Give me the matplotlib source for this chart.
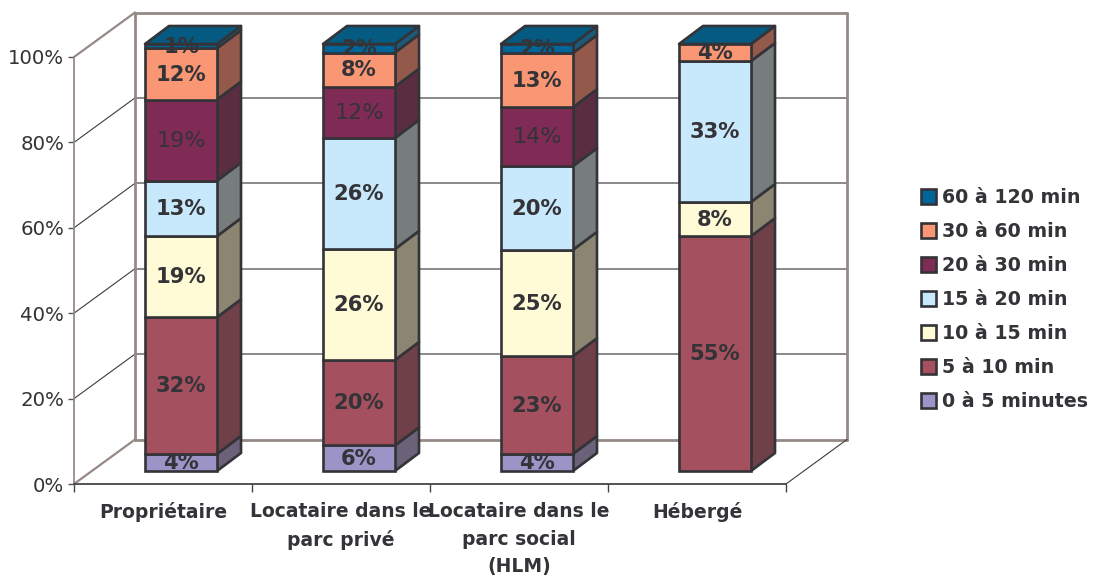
import matplotlib
matplotlib.use("Agg")
import matplotlib.pyplot as plt
from matplotlib.patches import Polygon, Patch
from matplotlib.lines import Line2D
from matplotlib.transforms import IdentityTransform, Affine2D
import numpy as np

categories = ["Propriétaire", "Locataire dans le\nparc privé", "Locataire dans le\nparc social\n(HLM)", "Hébergé"]
series_names = ["0 à 5 minutes", "5 à 10 min", "10 à 15 min", "15 à 20 min", "20 à 30 min", "30 à 60 min", "60 à 120 min"]
v_0_5 = [4, 6, 4.0, 0]
v_5_10 = [32, 20, 22.9, 55]
v_10_15 = [19, 26, 24.9, 8]
v_15_20 = [13, 26, 19.6, 33]
v_20_30 = [19, 12, 13.8, 0]
v_30_60 = [12, 8, 12.7, 4]
v_60_120 = [1, 2, 2.1, 0]
series = [v_0_5, v_5_10, v_10_15, v_15_20, v_20_30, v_30_60, v_60_120]
y_ticks = [0, 20, 40, 60, 80, 100]

front = ["#9C94C7", "#A5505F", "#FFFBD6", "#C8E9FB", "#802B55", "#F99673", "#006699"]
side = ["#6B6178", "#704049", "#8C8571", "#777C7C", "#5A2E40", "#935A4B", "#1B5A78"]
top_col = "#045A80"
edge = "#333338"
wall = "#968A86"
grid = "#808080"
txt = "#333338"
FONT = "DejaVu Sans"
plt.rcParams["font.family"] = FONT

W, H = 1094, 578
fig = plt.figure(figsize=(W / 100, H / 100), dpi=100)
ax = fig.add_axes([74 / W, (H - 484) / H, 712 / W, 427 / H])
ax.set_xlim(0, 4)
ax.set_ylim(0, 100)
ax.patch.set_visible(False)

WDX, WDY = 61, 44.5      # wall depth, pixels
GDX, GDY = 18, 13        # gap between axis plane and bar fronts
BDX, BDY = 24, 18        # bar depth
BW = 72 / 178
ELW = 1.9


def disp(x, y, dx=0, dy=0):
    p = ax.transData.transform((x, y))
    return (p[0] + dx, p[1] + dy)


def line(p, q, color, lw, z=1):
    ax.add_line(Line2D([p[0], q[0]], [p[1], q[1]], color=color, lw=lw, transform=IdentityTransform(),
                       clip_on=False, zorder=z, solid_capstyle="round"))


# walls and gridlines
for v in y_ticks[1:-1]:
    line(disp(0, v, WDX, WDY), disp(4, v, WDX, WDY), grid, 1.3)
    line(disp(0, v), disp(0, v, WDX, WDY), "#3C3C3C", 0.8)
line(disp(0, 0, WDX, WDY), disp(4, 0, WDX, WDY), wall, 2.0)
line(disp(0, 100, WDX, WDY), disp(4, 100, WDX, WDY), wall, 2.0)
line(disp(0, 0, WDX, WDY), disp(0, 100, WDX, WDY), wall, 2.0)
line(disp(4, 0, WDX, WDY), disp(4, 100, WDX, WDY), wall, 2.0)
line(disp(0, 0), disp(0, 0, WDX, WDY), wall, 1.6)
line(disp(0, 100), disp(0, 100, WDX, WDY), wall, 1.6)
line(disp(4, 0), disp(4, 0, WDX, WDY), "#3C3C3C", 0.8)

# bars
front_tr = ax.transData + Affine2D().translate(GDX, GDY)
text_tr = ax.transData + Affine2D().translate(GDX, GDY - 0.7)
x_pos = np.arange(4) + 0.5
bottoms = np.zeros(4)
for s, vals in enumerate(series):
    vals = np.array(vals, float)
    mask = vals > 0
    ax.bar(x_pos[mask], vals[mask], BW, bottom=bottoms[mask], color=front[s], edgecolor=edge, linewidth=ELW,
           transform=front_tr, zorder=5, clip_on=False)
    for i in range(4):
        if vals[i] <= 0:
            continue
        xr = x_pos[i] + BW / 2
        b, t = bottoms[i], bottoms[i] + vals[i]
        pts = [disp(xr, b, GDX, GDY), disp(xr, t, GDX, GDY),
               disp(xr, t, GDX + BDX, GDY + BDY), disp(xr, b, GDX + BDX, GDY + BDY)]
        ax.add_patch(Polygon(pts, closed=True, facecolor=side[s], edgecolor=edge, lw=ELW,
                             transform=IdentityTransform(), clip_on=False, zorder=4, joinstyle="round"))
        ax.text(x_pos[i], (b + t) / 2, f"{vals[i]:.0f}%", transform=text_tr, ha="center", va="center",
                fontsize=16 if s == 4 else 15.2, color=txt, fontweight="normal" if s == 4 else "bold",
                zorder=8, clip_on=False)
    bottoms += vals

for i in range(4):
    xl, xr = x_pos[i] - BW / 2, x_pos[i] + BW / 2
    t = bottoms[i]
    pts = [disp(xl, t, GDX, GDY), disp(xr, t, GDX, GDY),
           disp(xr, t, GDX + BDX, GDY + BDY), disp(xl, t, GDX + BDX, GDY + BDY)]
    ax.add_patch(Polygon(pts, closed=True, facecolor=top_col, edgecolor=edge, lw=ELW,
                         transform=IdentityTransform(), clip_on=False, zorder=6, joinstyle="round"))

# axes
for sp in ("top", "right"):
    ax.spines[sp].set_visible(False)
ax.spines["left"].set_color(wall)
ax.spines["left"].set_linewidth(1.3)
ax.spines["bottom"].set_color("#444448")
ax.spines["bottom"].set_linewidth(1.3)
ax.set_yticks(y_ticks)
ax.set_yticklabels([f"{v}%" for v in y_ticks], fontsize=14.2, color=txt)
ax.tick_params(axis="y", length=4.5, width=1, color="#555555", pad=2.5)
ax.set_xticks(range(5))
ax.set_xticklabels([])
ax.tick_params(axis="x", which="major", length=6, width=1, color="#444448")
ax.set_xticks(x_pos, minor=True)
ax.set_xticklabels(categories, minor=True, fontsize=13.5, fontweight="bold", color=txt, linespacing=1.58)
ax.tick_params(axis="x", which="minor", length=0, pad=13)

handles = [Patch(facecolor=front[s], edgecolor=edge, linewidth=ELW, label=series_names[s]) for s in range(6, -1, -1)]
leg = fig.legend(handles=handles, loc="upper left", bbox_to_anchor=(921 / W, 1 - 188 / H), frameon=False,
                 labelspacing=0.79, handlelength=0.8, handleheight=0.8, handletextpad=0.32, borderpad=0,
                 borderaxespad=0, labelcolor=txt, prop={"weight": "bold", "size": 13.7})

fig.savefig("out.png", dpi=100, facecolor="white")
